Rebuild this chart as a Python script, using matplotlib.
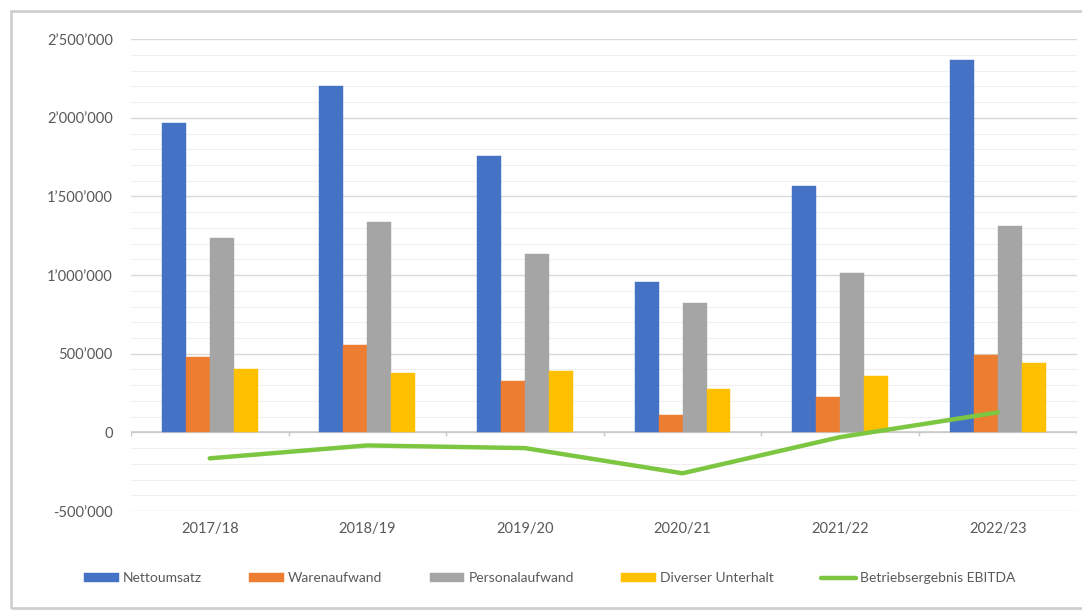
import matplotlib
matplotlib.use("Agg")
import matplotlib.pyplot as plt
from matplotlib.patches import Rectangle
from matplotlib.ticker import FuncFormatter, MultipleLocator
import numpy as np

plt.rcParams['font.family'] = ['Lato', 'DejaVu Sans']

years = ['2017/18', '2018/19', '2019/20', '2020/21', '2021/22', '2022/23']
nettoumsatz = [1965000, 2200000, 1756000, 955000, 1565000, 2366000]
warenaufwand = [477000, 553000, 324000, 108000, 223000, 490000]
personalaufwand = [1234000, 1336000, 1132000, 820000, 1011000, 1310000]
diverser_unterhalt = [400000, 380000, 388000, 274000, 356000, 439000]
ebitda = [-165000, -83000, -100000, -260000, -30000, 127000]

bar_series = [
    ('Nettoumsatz', nettoumsatz, '#4472C4'),
    ('Warenaufwand', warenaufwand, '#ED7D31'),
    ('Personalaufwand', personalaufwand, '#A5A5A5'),
    ('Diverser Unterhalt', diverser_unterhalt, '#FFC000'),
]

text_col = '#595959'

fig = plt.figure(figsize=(10.82, 6.12), dpi=100)
ax = fig.add_axes([0.121, 0.165, 0.874, 0.771])

# screenshot frame
fig.patches.append(Rectangle((11 / 1082, 4 / 612), 1.2, 597 / 612, transform=fig.transFigure,
                             fill=False, edgecolor='#cfcfcf', lw=2, zorder=0))

x = np.arange(len(years))
w = 0.152
for i, (name, vals, col) in enumerate(bar_series):
    ax.bar(x + (i - 1.5) * w, vals, width=w, color=col, label=name, zorder=3,
           edgecolor=col, linewidth=0.3)

ax.plot(x, ebitda, color='#7DC642', lw=3.2, label='Betriebsergebnis EBITDA',
        zorder=4, solid_capstyle='round')

ax.set_xlim(-0.5, len(years) - 0.5)
ax.set_ylim(-500000, 2500000)
ax.yaxis.set_major_locator(MultipleLocator(500000))
ax.yaxis.set_minor_locator(MultipleLocator(100000))
ax.yaxis.set_major_formatter(FuncFormatter(lambda v, p: f"{int(v):,}".replace(',', '\u2019')))
ax.grid(which='major', axis='y', color='#d9d9d9', lw=1.0, zorder=0)
ax.grid(which='minor', axis='y', color='#f0f0f0', lw=0.8, zorder=0)
ax.axhline(0, color='#c8c8c8', lw=1.1, zorder=2)
ax.vlines(np.arange(-0.5, len(years)), -22000, 0, color='#c8c8c8', lw=1.0, zorder=2)

ax.set_xticks(x)
ax.set_xticklabels(years)
ax.tick_params(axis='both', length=0, colors=text_col, labelsize=10.5)
ax.tick_params(axis='y', which='minor', length=0)
ax.tick_params(axis='y', pad=13)
ax.tick_params(axis='x', pad=8)
for s in ax.spines.values():
    s.set_visible(False)

handles, labels = ax.get_legend_handles_labels()
order = [1, 2, 3, 4, 0]
fig.legend([handles[i] for i in order], [labels[i] for i in order],
           loc='center', bbox_to_anchor=(0.508, 0.055), ncol=5, frameon=False,
           fontsize=10, labelcolor=text_col, handlelength=2.5, handleheight=0.6,
           handletextpad=0.3, columnspacing=3.4)

fig.savefig('out.png', dpi=100)
